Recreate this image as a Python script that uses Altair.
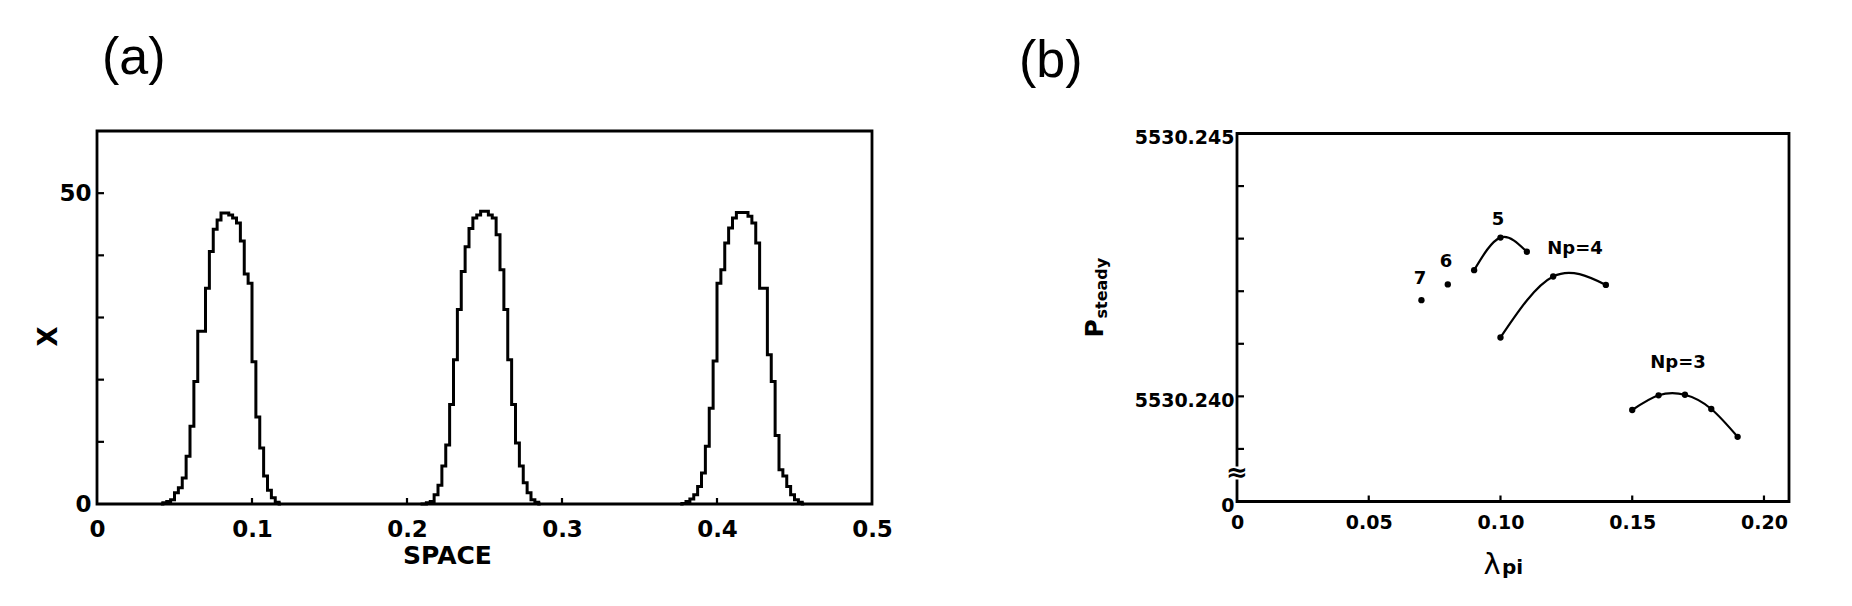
import altair as alt
import pandas as pd

FONT = "DejaVu Sans"
TFONT = "Liberation Sans"

# ---------------- panel (a): X versus SPACE (cell histogram) ----------------
SPACE_BIN = 0.0025                     # width of one spatial cell
peak_first_bin = [16, 83, 150]          # index of first listed cell of each peak
peak1_X = [0, 0.2, 0.4, 0.7, 1.8, 2.6, 4.2, 7.7, 12.5, 19.7, 27.8, 27.8, 34.7, 40.6,
           44.2, 45.7, 46.8, 46.8, 46.5, 46.0, 45.2, 42.3, 37.0, 35.5, 22.9, 14.0,
           9.0, 4.5, 2.2, 1.0, 0.3, 0]
peak2_X = [0, 0, 0.2, 0.4, 1.5, 3.0, 6.1, 9.5, 16.0, 23.2, 31.3, 37.4, 41.4, 44.3,
           46.0, 46.5, 47.1, 47.1, 46.5, 46.0, 43.3, 37.7, 31.3, 23.2, 16.0, 9.8,
           6.1, 3.4, 1.8, 0.7, 0.3, 0]
peak3_X = [0, 0.1, 0.4, 0.8, 1.5, 2.8, 5.0, 9.3, 15.4, 23.0, 35.5, 37.7, 42.0, 44.4,
           46.0, 46.9, 46.9, 46.9, 46.3, 45.2, 42.0, 34.7, 34.7, 24.0, 19.7, 11.0,
           5.5, 4.5, 2.8, 1.5, 0.7, 0.3, 0]
a_x_labels = [0, 0.1, 0.2, 0.3, 0.4, 0.5]
a_y_labels = [0, 50]
a_minor_y = [10, 20, 30, 40, 50]
a_minor_x = [0.1, 0.2, 0.3, 0.4]

# ---------------- panel (b): P_steady versus lambda_pi ----------------
np5_lam = [0.09, 0.10, 0.11]
np5_P = [5530.24240, 5530.24302, 5530.24275]
np4_lam = [0.10, 0.12, 0.14]
np4_P = [5530.24112, 5530.24228, 5530.24212]
np3_lam = [0.15, 0.16, 0.17, 0.18, 0.19]
np3_P = [5530.23974, 5530.24002, 5530.24003, 5530.23976, 5530.23923]
single_lam = [0.08, 0.07]            # Np = 6, Np = 7
single_P = [5530.24213, 5530.24183]
label_text = ["5", "6", "7", "Np=4", "Np=3"]
label_lam = [0.0991, 0.0793, 0.0695, 0.1283, 0.1674]
label_P = [5530.24336, 5530.24256, 5530.24224, 5530.24280, 5530.24064]
b_x_labels = [0, 0.05, 0.10, 0.15, 0.20]
b_y_labels = [5530.238, 5530.240, 5530.245]
b_minor_y = [5530.239, 5530.240, 5530.241, 5530.242, 5530.243, 5530.244]
b_minor_x = [0.05, 0.10, 0.15, 0.20]
b_break_P = [5530.23855]

# ---------------- tables ----------------
rows = []
for k, (start, vals) in enumerate(zip(peak_first_bin, [peak1_X, peak2_X, peak3_X])):
    for j, v in enumerate(vals):
        rows.append({"space": round((start + j + 0.5) * SPACE_BIN, 6), "X": v, "peak": k})
df_a = pd.DataFrame(rows)
df_a_ty = pd.DataFrame({"X": a_minor_y})
df_a_tx = pd.DataFrame({"space": a_minor_x})

curves = []
for name, lam, P in [("5", np5_lam, np5_P), ("4", np4_lam, np4_P), ("3", np3_lam, np3_P)]:
    for l, p in zip(lam, P):
        curves.append({"lam": l, "P": p, "Np": name})
df_curves = pd.DataFrame(curves)
df_points = pd.DataFrame({"lam": np5_lam + np4_lam + np3_lam + single_lam,
                          "P": np5_P + np4_P + np3_P + single_P})
df_labels = pd.DataFrame({"lam": label_lam, "P": label_P, "t": label_text})
df_b_ty = pd.DataFrame({"P": b_minor_y})
df_b_tx = pd.DataFrame({"lam": b_minor_x})
df_break = pd.DataFrame({"lam": [0.0], "P": b_break_P})

W_A, H_A = 775, 373
W_B, H_B = 552, 368

# ---------------- panel (a) ----------------
xa = alt.X("space:Q", scale=alt.Scale(domain=[0, 0.5], nice=False, zero=False),
           axis=alt.Axis(values=a_x_labels,
                         labelExpr="datum.value == 0 ? '0' : format(datum.value, '.1f')",
                         ticks=False, domain=False, grid=False, labelFlush=False,
                         labelOverlap=False, labelPadding=14, labelFont=FONT,
                         labelFontSize=23, labelFontWeight="bold", labelColor="black",
                         title="SPACE", titleFont=FONT, titleFontSize=25,
                         titleFontWeight="bold", titleColor="black",
                         titleX=350, titleY=51, titleBaseline="middle", titleAlign="center"))
ya = alt.Y("X:Q", scale=alt.Scale(domain=[0, 60], nice=False, zero=False),
           axis=alt.Axis(values=a_y_labels, ticks=False, domain=False, grid=False,
                         labelFlush=False, labelOverlap=False, labelPadding=6,
                         labelFont=FONT, labelFontSize=23, labelFontWeight="bold",
                         labelColor="black",
                         title="X", titleFont=FONT, titleFontSize=26,
                         titleFontWeight="bold", titleColor="black", titleAngle=270,
                         titleX=-49, titleY=205, titleBaseline="middle", titleAlign="center"))

steps = alt.Chart(df_a).mark_line(interpolate="step", color="black", strokeWidth=3).encode(
    x=xa, y=ya, detail="peak:N")
a_ticks_y = alt.Chart(df_a_ty).mark_rule(color="black", strokeWidth=2.2).encode(
    y="X:Q", x=alt.value(0), x2=alt.value(7))
a_ticks_x = alt.Chart(df_a_tx).mark_rule(color="black", strokeWidth=2.2).encode(
    x="space:Q", y=alt.value(H_A), y2=alt.value(H_A - 6))
a_tag = alt.Chart(pd.DataFrame({"t": ["(a)"]})).mark_text(
    font=TFONT, fontSize=52, align="left", baseline="alphabetic", color="black").encode(
    text="t:N", x=alt.value(5), y=alt.value(-57))

panel_a = alt.layer(steps, a_ticks_y, a_ticks_x, a_tag).properties(width=W_A, height=H_A)

# ---------------- panel (b) ----------------
xb_scale = alt.Scale(domain=[0, 0.2095], nice=False, zero=False)
yb_scale = alt.Scale(domain=[5530.238, 5530.245], nice=False, zero=False)
xb = alt.X("lam:Q", scale=xb_scale,
           axis=alt.Axis(values=b_x_labels,
                         labelExpr="datum.value == 0 ? '0' : format(datum.value, '.2f')",
                         ticks=False, domain=False, grid=False, labelFlush=False,
                         labelOverlap=False, labelPadding=12, labelFont=FONT,
                         labelFontSize=19, labelFontWeight="bold", labelColor="black",
                         title=None))
yb = alt.Y("P:Q", scale=yb_scale,
           axis=alt.Axis(values=b_y_labels,
                         labelExpr="datum.value < 5530.2385 ? '0' : format(datum.value, '.3f')",
                         ticks=False, domain=False, grid=False, labelFlush=False,
                         labelOverlap=False, labelPadding=3, labelOffset=4, labelFont=FONT,
                         labelFontSize=19, labelFontWeight="bold", labelColor="black",
                         title=None))

lines_b = alt.Chart(df_curves).mark_line(interpolate="natural", color="black", strokeWidth=2.2).encode(
    x=xb, y=yb, detail="Np:N")
pts_b = alt.Chart(df_points).mark_circle(color="black", size=40, opacity=1).encode(
    x="lam:Q", y="P:Q")
lab_b = alt.Chart(df_labels).mark_text(font=FONT, fontSize=18, fontWeight="bold", color="black",
                                       baseline="middle", align="center").encode(
    x="lam:Q", y="P:Q", text="t:N")
b_ticks_y = alt.Chart(df_b_ty).mark_rule(color="black", strokeWidth=2.2).encode(
    y="P:Q", x=alt.value(0), x2=alt.value(7))
b_ticks_x = alt.Chart(df_b_tx).mark_rule(color="black", strokeWidth=2.2).encode(
    x="lam:Q", y=alt.value(H_B), y2=alt.value(H_B - 6))
gap_b = alt.Chart(df_break).mark_rule(color="white", strokeWidth=8).encode(
    x="lam:Q", y=alt.value(H_B - 35), y2=alt.value(H_B - 22))
brk_b = alt.Chart(df_break).mark_text(text="\u2248", font=FONT, fontSize=26, fontWeight="bold",
                                      color="black", baseline="middle", align="center").encode(
    x="lam:Q", y="P:Q")
p_big = alt.Chart(pd.DataFrame({"t": ["P"]})).mark_text(
    font=FONT, fontSize=25, fontWeight="bold", angle=270, align="left", baseline="alphabetic",
    color="black").encode(text="t:N", x=alt.value(-134), y=alt.value(204))
p_sub = alt.Chart(pd.DataFrame({"t": ["steady"]})).mark_text(
    font=FONT, fontSize=16, fontWeight="bold", angle=270, align="left", baseline="alphabetic",
    color="black").encode(text="t:N", x=alt.value(-130), y=alt.value(185))
lam_big = alt.Chart(pd.DataFrame({"t": ["\u03bb"]})).mark_text(
    font=FONT, fontSize=29, align="center", baseline="alphabetic", color="black").encode(
    text="t:N", x=alt.value(255), y=alt.value(440))
lam_sub = alt.Chart(pd.DataFrame({"t": ["pi"]})).mark_text(
    font=FONT, fontSize=20, fontWeight="bold", align="left", baseline="alphabetic",
    color="black").encode(text="t:N", x=alt.value(265), y=alt.value(440))
b_tag = alt.Chart(pd.DataFrame({"t": ["(b)"]})).mark_text(
    font=TFONT, fontSize=52, align="left", baseline="alphabetic", color="black").encode(
    text="t:N", x=alt.value(-218), y=alt.value(-57))

panel_b = alt.layer(lines_b, pts_b, lab_b, b_ticks_y, b_ticks_x, gap_b, brk_b,
                    p_big, p_sub, lam_big, lam_sub, b_tag).properties(width=W_B, height=H_B)

chart = alt.hconcat(panel_a, panel_b, spacing=365, bounds="flush", center=True).properties(
    padding={"left": 25, "top": 22, "right": 5, "bottom": 5}
).configure_view(stroke="black", strokeWidth=2.8)

chart.save("out.html", embed_options={"renderer": "svg", "actions": False})
